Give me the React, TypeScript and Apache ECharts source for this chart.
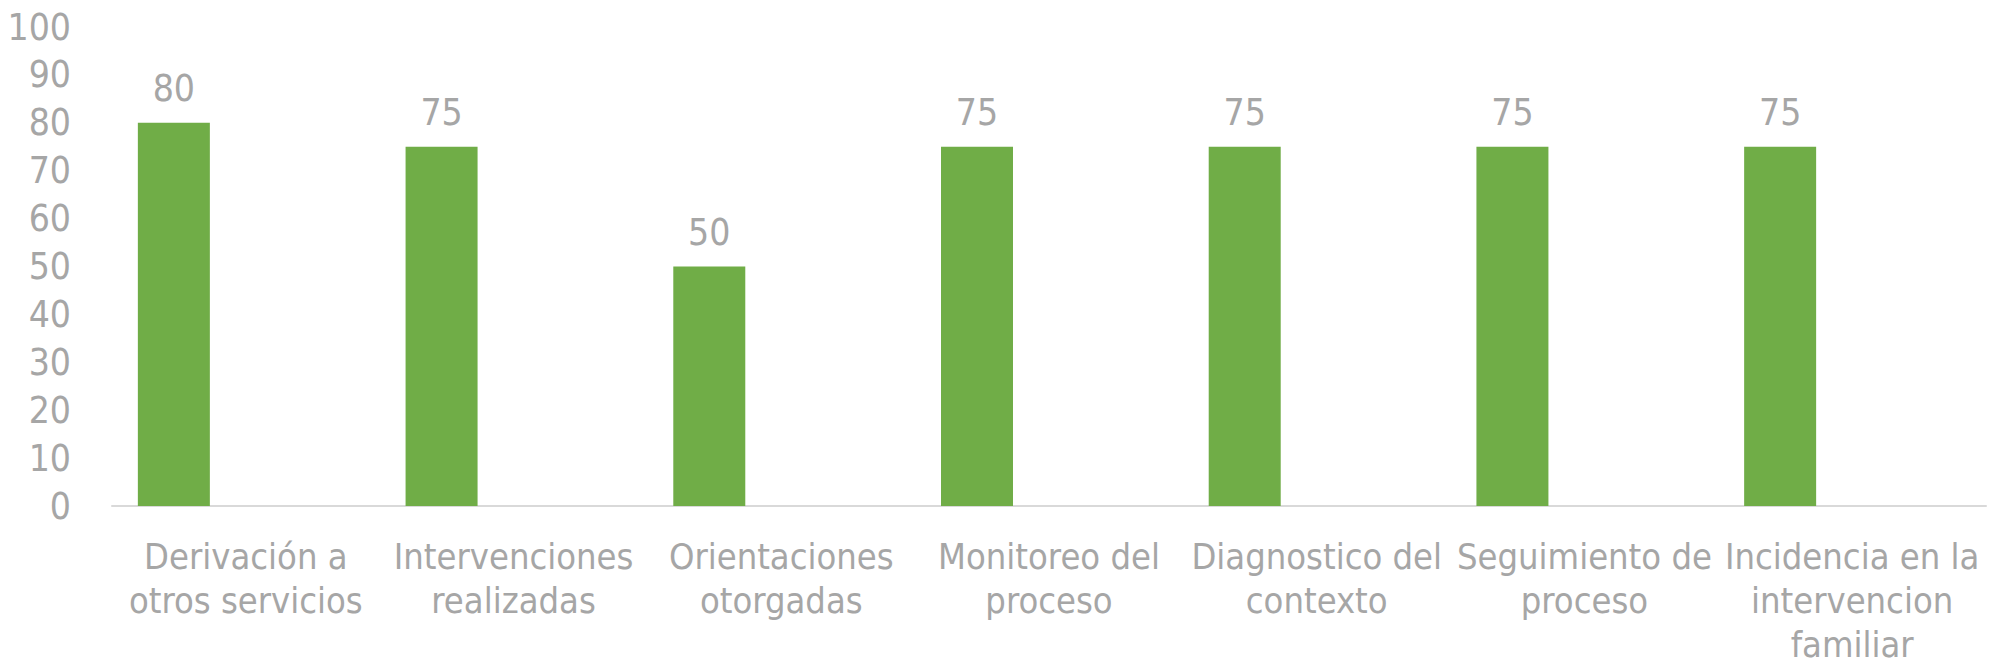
import React, { useEffect, useRef } from "react";
import * as echarts from "echarts";

const categories = [
  "Derivación a\notros servicios",
  "Intervenciones\nrealizadas",
  "Orientaciones\notorgadas",
  "Monitoreo del\nproceso",
  "Diagnostico del\ncontexto",
  "Seguimiento de\nproceso",
  "Incidencia en la\nintervencion\nfamiliar",
];
const values = [80, 75, 50, 75, 75, 75, 75];
const emptySeries = [null, null, null, null, null, null, null];
const yTicks = { min: 0, max: 100, interval: 10 };

const FONT = "'DejaVu Sans Condensed', 'Liberation Sans Narrow', Roboto, sans-serif";
const GRAY = "#A6A6A6";

export default function App() {
  const ref = useRef<HTMLDivElement>(null);
  useEffect(() => {
    if (!ref.current) return;
    const chart = echarts.init(ref.current, null, { renderer: "svg" });
    chart.setOption({
      animation: false,
      backgroundColor: "#FFFFFF",
      textStyle: { fontFamily: FONT },
      grid: { left: 112, right: 4, top: 27, bottom: 157, containLabel: false },
      xAxis: {
        type: "category",
        data: categories,
        axisLine: { show: true, lineStyle: { color: "#D9D9D9", width: 2 } },
        axisTick: { show: false },
        axisLabel: {
          color: GRAY,
          fontSize: 36,
          lineHeight: 44,
          margin: 28,
          interval: 0,
          fontFamily: FONT,
        },
      },
      yAxis: {
        type: "value",
        min: yTicks.min,
        max: yTicks.max,
        interval: yTicks.interval,
        axisLine: { show: false },
        axisTick: { show: false },
        splitLine: { show: false },
        axisLabel: { color: GRAY, fontSize: 37, margin: 41, fontFamily: FONT },
      },
      series: [
        {
          type: "bar",
          data: values,
          barWidth: 72,
          barGap: "0%",
          itemStyle: { color: "#70AD47" },
          label: {
            show: true,
            position: "top",
            distance: 16,
            color: GRAY,
            fontSize: 37,
            fontFamily: FONT,
          },
        },
        { type: "bar", data: emptySeries, barWidth: 72, barGap: "0%" },
        { type: "bar", data: emptySeries, barWidth: 72, barGap: "0%" },
      ],
    });
    return () => chart.dispose();
  }, []);
  return (
    <div
      ref={ref}
      style={{ position: "fixed", left: 0, top: 0, width: 1990, height: 666 }}
    />
  );
}
